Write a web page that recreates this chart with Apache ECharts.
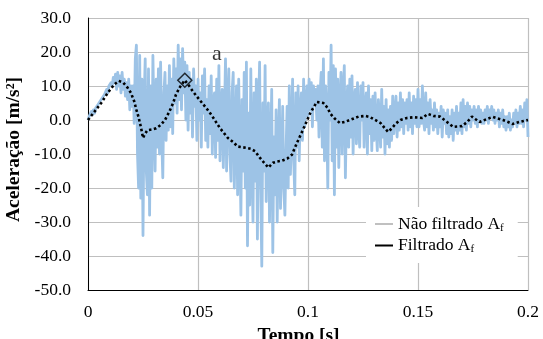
<!DOCTYPE html>
<html><head><meta charset="utf-8">
<script src="https://cdn.jsdelivr.net/npm/echarts@6/dist/echarts.min.js"></script>
<style>html,body{margin:0;padding:0;background:#fff}#c{width:543px;height:339px}</style>
</head><body><div id="c"></div>
<script>
// Raw (unfiltered) acceleration, one value every 0.5 ms from 0 to 0.2 s
var rawStep = 0.0005;
var rawValues = [
 0,1,0.5,2.5,1.5,3,2,3.5,3,4.5,
 4,5.5,5,6.5,6,7.5,7,9,8,10,
 9.5,11,10,12.5,11,13.5,9,14,10,13,
 8,14,9,12,7,11,6,12,3,10,
 4,10,-1,18,22,-10,-20,19,-23,12,
 -34,5,18,-15,-22,15,-28,10,-20,19,
 0,-15,12,-8,15,-10,17,-5,-17,8,
 14,-6,10,-3,16,-2,12,-4,18,5,
 15,2,22,6,18,3,21,8,17,0,
 16,-3,14,2,12,-5,15,4,10,-6,
 12,0,8,-8,13,2,15,-6,6,-8,
 10,-4,13,-10,5,8,-11,12,-6,16,
 -12,4,9,-14,0,18,-15,5,15,-10,
 -18,8,14,-20,-5,10,-22,12,-8,-28,
 6,-15,14,-20,17,-37,2,-25,15,-12,
 -30,8,-18,12,-35,3,17,-20,-43,5,
 -15,16,-24,-2,5,-30,-10,9,-39,-5,
 -22,3,-30,-8,6,-26,-12,4,-20,-28,
 -10,4,-20,10,-16,-5,12,-12,-22,8,
 -8,10,-12,2,8,-6,12,-2,4,10,
 1,12,3,11,-2,10,5,9,0,10,
 -5,8,14,-8,18,-12,10,2,-20,14,
 0,22,-12,16,-22,15,-8,12,-14,5,
 14,-10,8,16,-17,3,10,-8,12,-5,
 13,-10,6,9,-7,11,-2,-8,10,0,
 11,-8,4,8,-10,10,-4,6,-9,7,
 -6,8,-2,-9,6,0,-8,9,-5,4,
 -10,6,-7,3,-8,4,-6,7,-4,2,
 7,-5,5,-3,8,-2,6,-4,5,-1,
 6,-3,8,-2,5,-4,7,-1,6,-2,
 9,-2,6,-1,10,0,-3,8,-2,5,
 -4,6,-1,3,-3,5,-2,3,-4,2,
 -2,4,-5,3,-1,2,-4,3,-5,1,
 -4,3,-6,2,-3,4,-4,2,-3,5,
 -4,6,-2,4,-3,5,-1,4,-2,3,
 0,4,-1,3,-2,4,0,3,-1,2,
 -1,3,0,4,-1,3,1,4,0,3,
 -1,2,0,3,-2,2,-1,3,-2,1,
 -3,1,-2,2,-3,0,-2,2,-1,3,
 -2,2,-1,4,-1,3,-2,5,0,6,
 -5
];
// Filtered acceleration: time (s) and value (m/s²)
var filtTime = [0,0.003,0.006,0.009,0.012,0.014,0.016,0.018,0.0195,0.021,0.022,0.023,0.024,0.0245,0.025,0.026,0.027,0.029,0.031,0.033,0.035,0.037,0.0387,0.040,0.0418,0.044,0.046,0.0478,0.050,0.052,0.055,0.057,0.060,0.062,0.0636,0.066,0.068,0.070,0.072,0.074,0.076,0.078,0.0797,0.082,0.084,0.086,0.088,0.0905,0.0927,0.095,0.0977,0.101,0.104,0.107,0.109,0.110,0.112,0.1145,0.117,0.119,0.121,0.123,0.126,0.128,0.130,0.133,0.135,0.1364,0.138,0.140,0.142,0.145,0.148,0.152,0.1545,0.157,0.160,0.163,0.166,0.168,0.170,0.1725,0.1745,0.176,0.178,0.181,0.184,0.186,0.1886,0.191,0.193,0.196,0.198,0.2];
var filtValues = [0,2.5,5,8,10.5,11.5,11,9.5,8,5.5,3,0.8,-2,-3.5,-5.3,-4,-3,-2.8,-2.4,-1.5,0,2.5,5,7.5,9.7,11.7,10,8.3,6.5,4.9,2.5,0.6,-2.4,-4,-5.3,-6.5,-7.8,-8,-8.2,-8.5,-9.2,-11,-12.3,-14,-12.6,-12.2,-12,-11.4,-10.2,-6.7,-2.9,2,5.3,5,3.5,2,0.5,-0.9,-0.5,0,0.5,1,1.2,0.9,0.2,-0.9,-2.5,-3.5,-2.5,-1,0,0.6,0.8,0.6,1.8,1.2,1,-0.5,-2,-1.9,-1.8,-0.5,1,0.3,-0.6,0.2,0.9,0.5,0,-0.6,-1.2,-0.6,-0.3,0];
var peakPoint = [0.044, 11.7];
var peakLabel = 'a';
var xTicks = [0, 0.05, 0.1, 0.15, 0.2];

var rawData = rawValues.map(function(v,i){ return [+(i*rawStep).toFixed(4), v]; });
var filtData = filtTime.map(function(t,i){ return [t, filtValues[i]]; });

var serif = 'Liberation Serif';
var chart = echarts.init(document.getElementById('c'), null, {renderer:'canvas'});
chart.setOption({
  animation:false,
  backgroundColor:'#fff',
  grid:{left:88, right:15, top:18, bottom:49, containLabel:false, outerBoundsMode:'none'},
  xAxis:{type:'value', min:0, max:0.2, interval:0.05,
    name:'Tempo [s]', nameLocation:'middle', nameGap:34,
    nameTextStyle:{fontFamily:serif, fontSize:19.5, fontWeight:'bold', color:'#000', padding:[0,19,0,0]},
    axisLine:{show:true, onZero:false, lineStyle:{color:'#000', width:1}},
    axisTick:{show:false},
    axisLabel:{fontFamily:serif, fontSize:17.5, color:'#000', margin:13,
      formatter:function(v){ var s=String(+v.toFixed(3)); return xTicks.indexOf(+s)>=0 ? s : ''; }},
    splitLine:{show:true, lineStyle:{color:'#bfbfbf', width:1.2}}
  },
  yAxis:{type:'value', min:-50, max:30, interval:10,
    name:'Aceleração [m/s²]', nameLocation:'middle', nameGap:55,
    nameTextStyle:{fontFamily:serif, fontSize:19.5, fontWeight:'bold', color:'#000', padding:[0,0,0,9]},
    axisLine:{show:true, lineStyle:{color:'#000', width:1}},
    axisTick:{show:false},
    axisLabel:{fontFamily:serif, fontSize:17.5, color:'#000', margin:17,
      formatter:function(v){ return v.toFixed(1); }},
    splitLine:{show:true, lineStyle:{color:'#bfbfbf', width:1.2}}
  },
  legend:{orient:'vertical', left:366, top:207, padding:[8,14,8,9],
    backgroundColor:'#fff', itemWidth:18, itemHeight:2, itemGap:3, icon:'rect',
    data:[
      {name:'Não filtrado', itemStyle:{color:'#c0c0c0'}},
      {name:'Filtrado', itemStyle:{color:'#000'}}
    ],
    formatter:function(n){ return n + ' A{sub|f}'; },
    textStyle:{fontFamily:serif, fontSize:17.5, color:'#000',
      rich:{sub:{fontFamily:serif, fontSize:11, color:'#000', padding:[8,0,0,0]}}}
  },
  series:[
    {name:'Não filtrado', type:'line', data:rawData, showSymbol:false, symbol:'none',
      lineStyle:{color:'#9dc3e6', width:2.8, join:'round'}, itemStyle:{color:'#9dc3e6'}, z:1},
    {name:'Filtrado', type:'line', data:filtData, showSymbol:false, symbol:'none',
      lineStyle:{color:'#000', width:2.6, type:[2.5,2.5]}, itemStyle:{color:'#000'}, z:3},
    {name:'pico', type:'scatter', data:[peakPoint], symbol:'diamond', symbolSize:14,
      itemStyle:{color:'rgba(0,0,0,0)', borderColor:'#000', borderWidth:1.5}, z:4,
      label:{show:true, formatter:peakLabel, position:'top', offset:[32,-2],
        fontFamily:serif, fontSize:22, color:'#000'}}
  ]
});
</script></body></html>
